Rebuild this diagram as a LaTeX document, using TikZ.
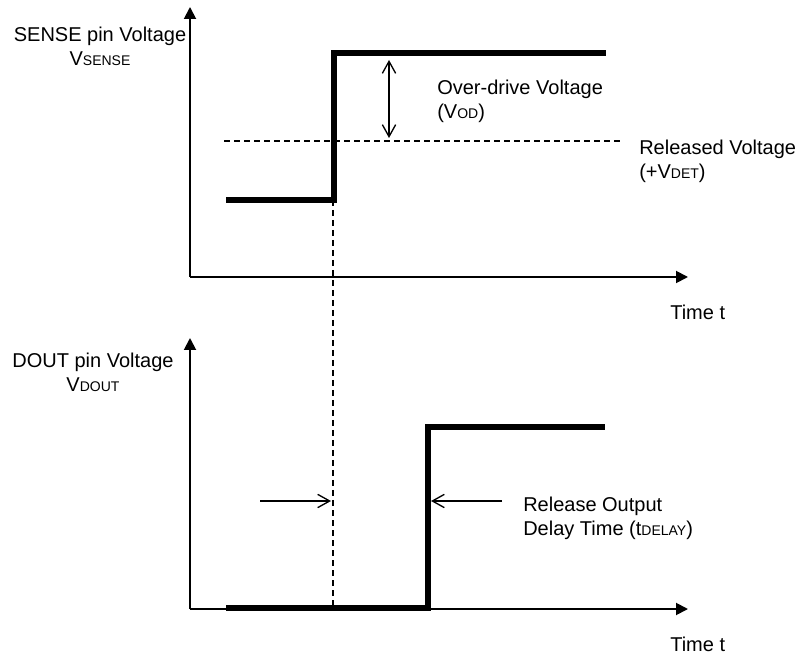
\documentclass[tikz,border=0pt]{standalone}
\usepackage{fontspec}
\setmainfont{Liberation Sans}
\usepackage{tikz}
\usetikzlibrary{arrows.meta,positioning,calc}
\newcommand{\sbs}[1]{{\fontsize{10.5pt}{12pt}\selectfont #1}}

\begin{document}
\begin{tikzpicture}[
  x=0.75pt,y=-0.75pt,
  axis/.style={-{Triangle[length=9pt,width=9pt]},line width=1.4pt},
  signal/.style={line width=4pt,line join=miter},
  guide/.style={line width=0.8pt,dash pattern=on 4.5pt off 3pt},
  dim/.style={line width=1pt},
  lbl/.style={inner sep=0pt,font=\fontsize{15pt}{18pt}\selectfont}
]
\useasboundingbox (0,0) rectangle (803,655);
% upper graph: SENSE pin
\coordinate (senseO) at (190,277);
\coordinate (senseY) at (190,7);
\coordinate (senseX) at (688,277);
\draw[axis] (senseO) -- (senseY);
\draw[axis] (senseO) -- (senseX);
\coordinate (sLowA) at (226,200);
\coordinate (sLowB) at (334,200);
\coordinate (sHighA) at (334,53);
\coordinate (sHighB) at (606,53);
\draw[signal] (sLowA) -- (sLowB) -- (sHighA) -- (sHighB);
\coordinate (detA) at (224,141);
\coordinate (detB) at (623,141);
\draw[guide] (detA) -- (detB);
\coordinate (odTop) at (389,60);
\coordinate (odBot) at (389,138);
\draw[dim,{Straight Barb[length=9pt,width=10pt]}-{Straight Barb[length=9pt,width=10pt]}] (odTop) -- (odBot);
\node[lbl,align=center] (senseLbl) at (100,46) {SENSE pin Voltage\\V\sbs{SENSE}};
\node[lbl,align=left,anchor=west] (odLbl) at (437,101) {Over-drive Voltage\\(V\sbs{OD})};
\node[lbl,align=left,anchor=west] (detLbl) at (639,161) {Released Voltage\\(+V\sbs{DET})};
\node[lbl,anchor=west] (timeTop) at (670,312) {Time t};
% lower graph: DOUT pin
\coordinate (doutO) at (190,609);
\coordinate (doutY) at (190,338);
\coordinate (doutX) at (688,609);
\draw[axis] (doutO) -- (doutY);
\draw[axis] (doutO) -- (doutX);
\coordinate (dLowA) at (226,608);
\coordinate (dLowB) at (428,608);
\coordinate (dHighA) at (428,427);
\coordinate (dHighB) at (605,427);
\draw[signal] (dLowA) -- (dLowB) -- (dHighA) -- (dHighB);
\coordinate (edgeTop) at (333,200);
\coordinate (edgeBot) at (333,609);
\draw[guide] (edgeTop) -- (edgeBot);
\coordinate (delA) at (260,501);
\coordinate (delB) at (331,501);
\coordinate (delC) at (502,501);
\coordinate (delD) at (431,501);
\draw[dim,-{Straight Barb[length=9pt,width=10pt]}] (delA) -- (delB);
\draw[dim,-{Straight Barb[length=9pt,width=10pt]}] (delC) -- (delD);
\node[lbl,align=center] (doutLbl) at (93,372) {DOUT pin Voltage\\V\sbs{DOUT}};
\node[lbl,align=left,anchor=west] (delLbl) at (523,518) {Release Output\\Delay Time (t\sbs{DELAY})};
\node[lbl,anchor=west] (timeBot) at (670,644) {Time t};
\end{tikzpicture}
\end{document}
